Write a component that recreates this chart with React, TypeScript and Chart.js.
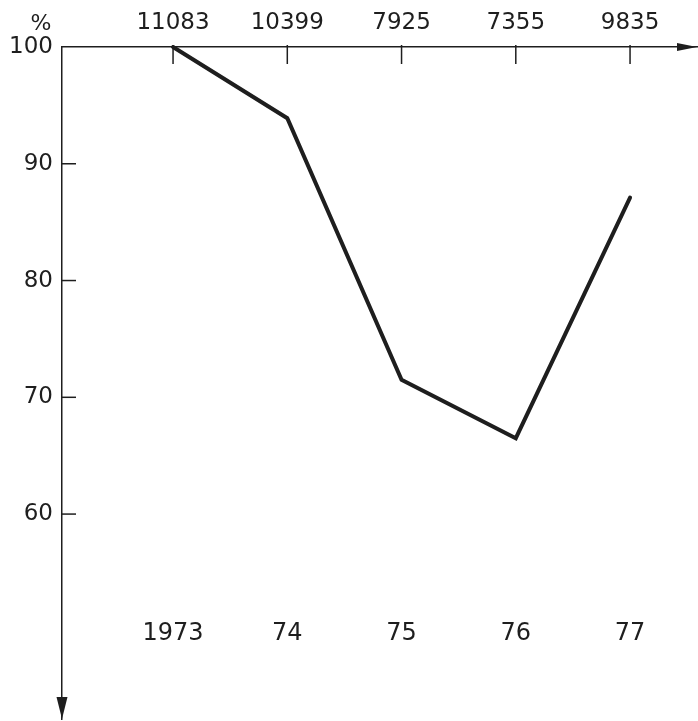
import React, { useEffect, useRef } from "react";
import { Chart, registerables } from "chart.js";

Chart.register(...registerables);

const years = [1973, 1974, 1975, 1976, 1977];
const yearLabels = ["1973", "74", "75", "76", "77"];
const topLabels = ["11083", "10399", "7925", "7355", "9835"];
const percentValues = [100, 93.9, 71.5, 66.5, 87.1];
const yTickValues = [60, 70, 80, 90, 100];

const INK = "#1e1e1e";
const FONT = "DejaVu Sans";

const axisDecor = {
  id: "axisDecor",
  afterDraw(chart: any) {
    const ctx = chart.ctx;
    const { left, top, right, bottom } = chart.chartArea;
    const xs = chart.scales.x;
    const ys = chart.scales.y;
    ctx.save();
    ctx.strokeStyle = INK;
    ctx.fillStyle = INK;
    ctx.lineWidth = 1.5;
    // inward tick marks on top axis
    years.forEach((v) => {
      const px = xs.getPixelForValue(v);
      ctx.beginPath();
      ctx.moveTo(px, top - 2);
      ctx.lineTo(px, top + 17);
      ctx.stroke();
    });
    // inward tick marks on y axis
    yTickValues.forEach((v) => {
      if (v === 100) return;
      const py = ys.getPixelForValue(v);
      ctx.beginPath();
      ctx.moveTo(left, py);
      ctx.lineTo(left + 14, py);
      ctx.stroke();
    });
    // arrow at right end of top axis
    ctx.beginPath();
    ctx.moveTo(right, top);
    ctx.lineTo(right - 20, top - 4);
    ctx.lineTo(right - 20, top + 4);
    ctx.closePath();
    ctx.fill();
    // arrow at bottom of y axis
    ctx.beginPath();
    ctx.moveTo(left, bottom);
    ctx.lineTo(left - 5.5, bottom - 22);
    ctx.lineTo(left + 5.5, bottom - 22);
    ctx.closePath();
    ctx.fill();
    // percent sign
    ctx.font = `22px "${FONT}"`;
    ctx.textAlign = "center";
    ctx.textBaseline = "middle";
    ctx.fillText("%", 41, 24);
    ctx.restore();
  },
};

const zeroPad = (s: any) => {
  s.paddingTop = 0;
  s.paddingBottom = 0;
  s.paddingLeft = 0;
  s.paddingRight = 0;
};

export default function App() {
  const ref = useRef<HTMLCanvasElement | null>(null);

  useEffect(() => {
    document.body.style.margin = "0";
    document.body.style.background = "#ffffff";
    if (!ref.current) return;
    const chart = new Chart(ref.current, {
      type: "line",
      data: {
        datasets: [
          {
            data: years.map((y, i) => ({ x: y, y: percentValues[i] })),
            borderColor: INK,
            borderWidth: 4,
            pointRadius: 0,
            tension: 0,
            fill: false,
            clip: false as any,
            borderCapStyle: "round",
            borderJoinStyle: "miter",
          },
        ],
      },
      options: {
        responsive: false,
        animation: false,
        layout: { padding: { left: 0, top: 0, right: 1, bottom: 2 } },
        plugins: {
          legend: { display: false },
          tooltip: { enabled: false },
          title: { display: false },
        },
        scales: {
          x: {
            type: "linear",
            position: "top",
            min: 1972.028,
            max: 1977.586,
            afterBuildTicks: (s: any) => {
              s.ticks = years.map((v) => ({ value: v }));
            },
            afterFit: (s: any) => {
              s.height = 47;
              zeroPad(s);
            },
            grid: { display: false, drawTicks: false },
            border: { display: true, color: INK, width: 1.5 },
            ticks: {
              color: INK,
              padding: 10,
              maxRotation: 0,
              autoSkip: false,
              font: { family: FONT, size: 23 },
              callback: (_v: any, i: number) => topLabels[i],
            },
          },
          x2: {
            type: "linear",
            axis: "x",
            position: { y: 51 } as any,
            min: 1972.028,
            max: 1977.586,
            afterBuildTicks: (s: any) => {
              s.ticks = years.map((v) => ({ value: v }));
            },
            afterFit: (s: any) => {
              s.height = 0;
              zeroPad(s);
            },
            grid: { display: false, drawTicks: false },
            border: { display: false },
            ticks: {
              color: INK,
              padding: 0,
              maxRotation: 0,
              autoSkip: false,
              font: { family: FONT, size: 24 },
              callback: (_v: any, i: number) => yearLabels[i],
            },
          },
          y: {
            type: "linear",
            position: "left",
            min: 42.45,
            max: 100,
            afterBuildTicks: (s: any) => {
              s.ticks = yTickValues.map((v) => ({ value: v }));
            },
            afterFit: (s: any) => {
              s.width = 62;
              zeroPad(s);
            },
            grid: { display: false, drawTicks: false },
            border: { display: true, color: INK, width: 1.5 },
            ticks: {
              color: INK,
              padding: 9,
              font: { family: FONT, size: 23 },
            },
          },
        },
      },
      plugins: [axisDecor],
    });
    return () => chart.destroy();
  }, []);

  return <canvas ref={ref} width={698} height={721} style={{ display: "block" }} />;
}
